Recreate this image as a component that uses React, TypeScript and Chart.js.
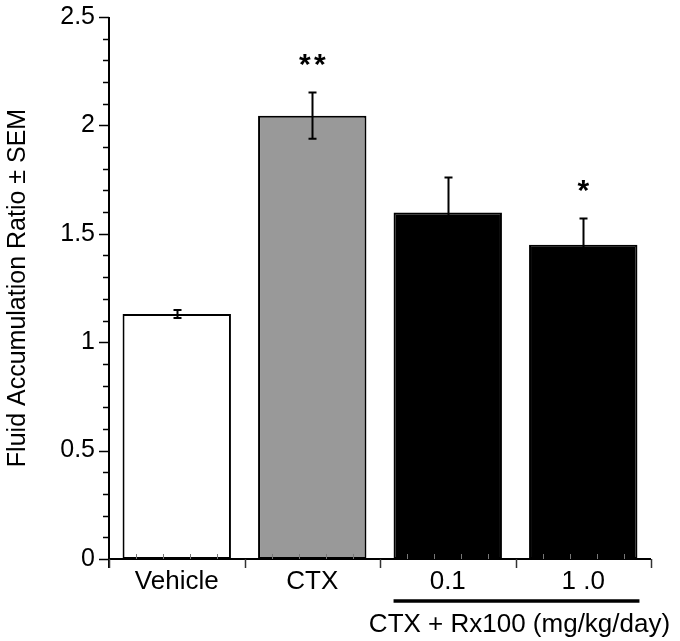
import React, { useEffect, useRef } from "react";
import { Chart, registerables } from "chart.js";

Chart.register(...registerables);

const categories = ["Vehicle", "CTX", "0.1", "1 .0"];
const means = [1.13, 2.045, 1.598, 1.45];
const sems = [0.018, 0.107, 0.162, 0.12];
const fills = ["#ffffff", "#999999", "#000000", "#000000"];
const significance = ["", "**", "", "*"];
const yTickValues = [0, 0.5, 1, 1.5, 2, 2.5];
const yTickLabels = ["0", "0.5", "1", "1.5", "2", "2.5"];
const groupLabel = "CTX + Rx100 (mg/kg/day)";
const groupMembers = [2, 3];
const yTitle = "Fluid Accumulation Ratio \u00b1 SEM";

const FONT = "'Liberation Sans', Arial, Helvetica, sans-serif";

const decorPlugin = {
  id: "decor",
  afterDatasetsDraw(chart: any) {
    const ctx = chart.ctx as CanvasRenderingContext2D;
    const ys = chart.scales.y;
    const area = chart.chartArea;
    const meta = chart.getDatasetMeta(0);
    ctx.save();
    ctx.strokeStyle = "#000";
    ctx.fillStyle = "#000";

    // y axis line (runs slightly below the x axis)
    ctx.lineWidth = 2;
    ctx.beginPath();
    ctx.moveTo(area.left, area.top);
    ctx.lineTo(area.left, area.bottom + 9);
    ctx.stroke();

    // y ticks: major every 0.5, minor every 0.1
    ctx.lineWidth = 1.5;
    const steps = Math.round((ys.max - ys.min) / 0.1);
    for (let k = 0; k <= steps; k++) {
      const v = ys.min + k * 0.1;
      const py = Math.round(ys.getPixelForValue(v)) + 0.5;
      const major = k % 5 === 0;
      ctx.beginPath();
      ctx.moveTo(area.left, py);
      ctx.lineTo(area.left - (major ? 10 : 6), py);
      ctx.stroke();
    }

    // x axis line
    ctx.lineWidth = 2;
    ctx.beginPath();
    ctx.moveTo(area.left, area.bottom);
    ctx.lineTo(area.right, area.bottom);
    ctx.stroke();

    // x ticks: category boundaries (down) and minor ticks (up)
    const n = categories.length;
    const w = (area.right - area.left) / n;
    for (let i = 0; i <= n; i++) {
      const px = Math.round(area.left + i * w) + 0.5;
      ctx.lineWidth = 1.5;
      ctx.strokeStyle = "#333";
      ctx.beginPath();
      ctx.moveTo(px, area.bottom);
      ctx.lineTo(px, area.bottom + 9);
      ctx.stroke();
      if (i < n) {
        for (let j = 1; j < 5; j++) {
          const mx = Math.round(area.left + i * w + (j * w) / 5) + 0.5;
          ctx.lineWidth = 1;
          ctx.strokeStyle = "#777";
          ctx.beginPath();
          ctx.moveTo(mx, area.bottom);
          ctx.lineTo(mx, area.bottom - 5);
          ctx.stroke();
        }
      }
    }
    ctx.strokeStyle = "#000";

    // error bars + significance marks
    meta.data.forEach((el: any, i: number) => {
      const top = ys.getPixelForValue(means[i] + sems[i]);
      const bot = ys.getPixelForValue(means[i] - sems[i]);
      const cx = Math.round(el.x) + 0.5;
      ctx.lineWidth = 2;
      ctx.beginPath();
      ctx.moveTo(cx, top);
      ctx.lineTo(cx, bot);
      ctx.moveTo(cx - 4, top);
      ctx.lineTo(cx + 4, top);
      ctx.moveTo(cx - 4, bot);
      ctx.lineTo(cx + 4, bot);
      ctx.stroke();
      const marks = significance[i];
      if (marks) {
        const size = 30;
        ctx.font = `bold ${size}px ${FONT}`;
        ctx.textAlign = "center";
        ctx.textBaseline = "alphabetic";
        const gap = 15;
        const startX = el.x - ((marks.length - 1) * gap) / 2;
        for (let k = 0; k < marks.length; k++) {
          ctx.fillText(marks[k], startX + k * gap, top - 36 + 0.57 * size);
        }
      }
    });

    // group underline and group label
    const first = meta.data[groupMembers[0]] as any;
    const last = meta.data[groupMembers[groupMembers.length - 1]] as any;
    const x0 = first.x - first.width / 2;
    const x1 = last.x + last.width / 2;
    const lineY = area.bottom + 42;
    ctx.lineWidth = 3.5;
    ctx.beginPath();
    ctx.moveTo(x0, lineY);
    ctx.lineTo(x1 + 2, lineY);
    ctx.stroke();
    ctx.font = `26px ${FONT}`;
    ctx.textAlign = "center";
    ctx.textBaseline = "alphabetic";
    ctx.fillText(groupLabel, (x0 + x1) / 2 + 4, area.bottom + 73);

    ctx.restore();
  },
};

export default function App() {
  const ref = useRef<HTMLCanvasElement | null>(null);

  useEffect(() => {
    if (!ref.current) return;
    const chart = new Chart(ref.current, {
      type: "bar",
      data: {
        labels: categories,
        datasets: [
          {
            data: means,
            backgroundColor: fills,
            borderColor: "#000",
            borderWidth: 2,
            borderSkipped: false,
            categoryPercentage: 0.8,
            barPercentage: 1,
          } as any,
        ],
      },
      options: {
        responsive: false,
        animation: false,
        devicePixelRatio: 1,
        layout: { padding: { top: 17, right: 29, left: 0, bottom: 0 } },
        plugins: {
          legend: { display: false },
          tooltip: { enabled: false },
        },
        scales: {
          x: {
            grid: { display: false, drawTicks: false },
            border: { display: false },
            ticks: {
              color: "#000",
              font: { family: FONT, size: 26 },
              padding: 7,
              maxRotation: 0,
              autoSkip: false,
            },
            afterFit: (s: any) => {
              s.height = 82;
            },
          },
          y: {
            min: 0,
            max: 2.5,
            grid: { display: false, drawTicks: true, tickLength: 14 },
            border: { display: false },
            ticks: {
              color: "#000",
              font: { family: FONT, size: 25 },
              padding: 0,
              callback: (_v: any, idx: number) => yTickLabels[idx],
            },
            afterBuildTicks: (s: any) => {
              s.ticks = yTickValues.map((v) => ({ value: v }));
            },
            title: {
              display: true,
              text: yTitle,
              color: "#000",
              font: { family: FONT, size: 25 },
              padding: { top: 3, bottom: 0 },
            },
            afterFit: (s: any) => {
              s.width = 109;
            },
          },
        },
      } as any,
      plugins: [decorPlugin],
    });
    return () => chart.destroy();
  }, []);

  return (
    <canvas
      ref={ref}
      width={680}
      height={641}
      style={{ position: "absolute", left: 0, top: 0, width: 680, height: 641, background: "#fff" }}
    />
  );
}
